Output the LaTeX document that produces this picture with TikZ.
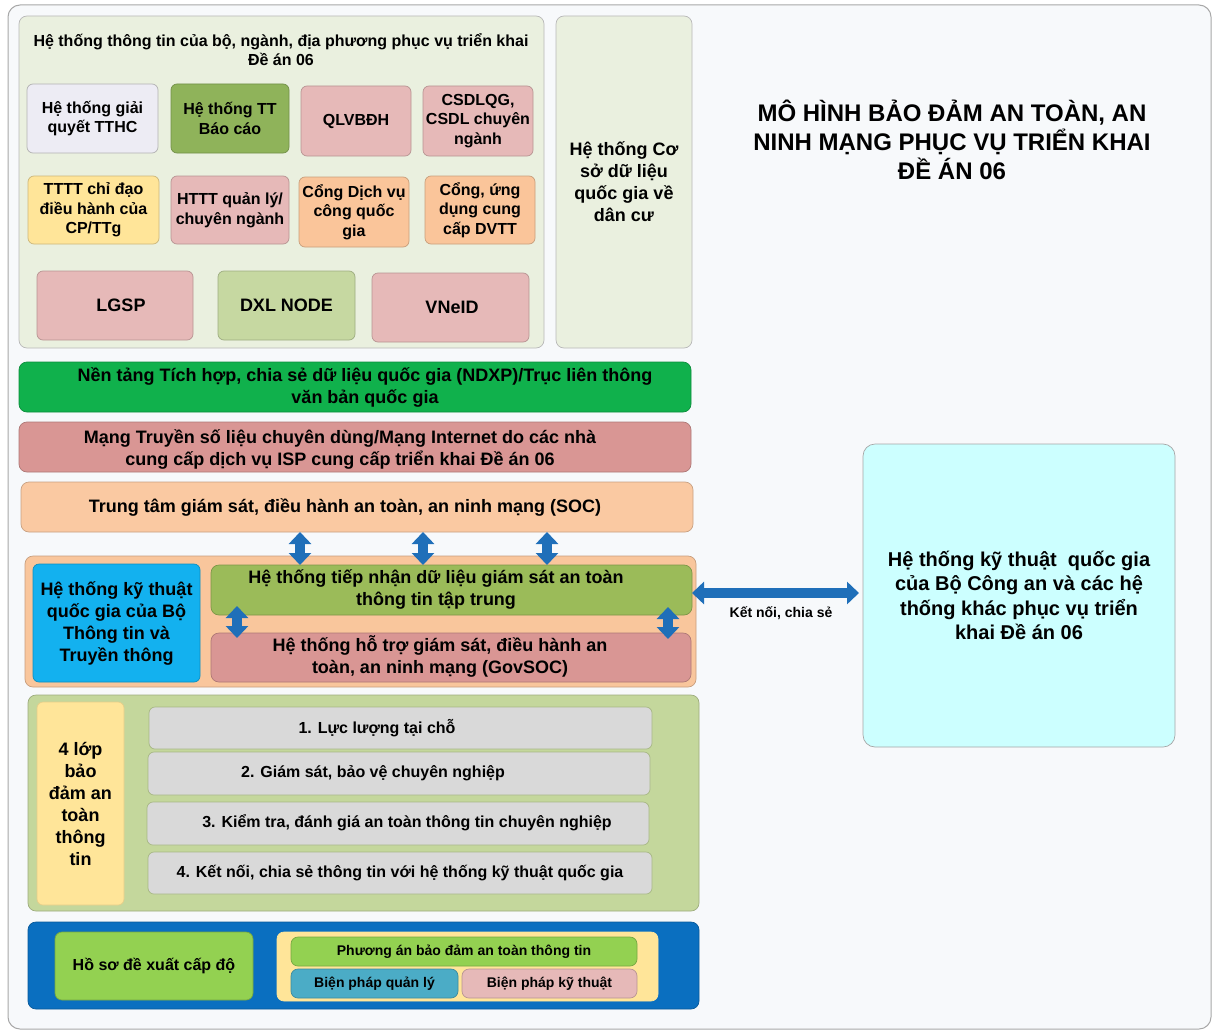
\documentclass[tikz,border=0pt]{standalone}
\usepackage{fontspec}
\setmainfont{Liberation Sans}
\usetikzlibrary{arrows.meta}
\definecolor{pagebg}{HTML}{F7F9FB}
\definecolor{framec}{HTML}{A8A8A8}
\definecolor{grpg}{HTML}{EAF0DF}
\definecolor{lav}{HTML}{EDECF4}
\definecolor{olive}{HTML}{8FB35A}
\definecolor{pinkl}{HTML}{E6B9B8}
\definecolor{yel}{HTML}{FFE599}
\definecolor{peach}{HTML}{FAC59A}
\definecolor{dxl}{HTML}{C6D8A1}
\definecolor{ndxpg}{HTML}{10B14C}
\definecolor{pinkd}{HTML}{D99694}
\definecolor{socc}{HTML}{FAC9A2}
\definecolor{midpeach}{HTML}{F9C69C}
\definecolor{cyanb}{HTML}{13B1EF}
\definecolor{recvg}{HTML}{9BBB59}
\definecolor{arrowb}{HTML}{1F6FB9}
\definecolor{cyanl}{HTML}{CCFFFF}
\definecolor{botg}{HTML}{C4D79C}
\definecolor{grayb}{HTML}{D9D9D9}
\definecolor{blueg}{HTML}{0A6FC0}
\definecolor{limeg}{HTML}{93D151}
\definecolor{tealb}{HTML}{4BACC6}
\newcommand\placebox[7]{\node[#2, minimum width={#5-#3}, minimum height={#6-#4}] (#1) at ({(#3+#5)/2},{(#4+#6)/2}) {#7};}
\tikzset{
  box/.style={rounded corners=6pt, inner sep=0pt, outer sep=0pt, line width=0.7pt, align=center,
    font=\bfseries\fontsize{16}{19.5}\selectfont},
  fb/.style={box, fill=#1, draw=#1!80!black},
  txt/.style={inner sep=0pt, outer sep=0pt, align=center},
  f14/.style={font=\bfseries\fontsize{14}{17}\selectfont},
  f16/.style={font=\bfseries\fontsize{16}{18.5}\selectfont},
  f18/.style={font=\bfseries\fontsize{18}{22}\selectfont},
  f20/.style={font=\bfseries\fontsize{20}{24.5}\selectfont},
  f24/.style={font=\bfseries\fontsize{24}{29}\selectfont},
  dbl/.style={draw=arrowb, line width=10pt,
    {Triangle[length=12pt,width=22pt]}-{Triangle[length=12pt,width=22pt]}},
}
\begin{document}
\begin{tikzpicture}[x=1pt,y=-1pt]
\useasboundingbox (0,0) rectangle (1214,1030);
\fill[white] (0,0) rectangle (1214,1030);
\draw[framec, fill=pagebg, line width=1pt, rounded corners=12pt] (8,5) rectangle (1211,1029);

% top group
\placebox{grp}{box, fill=grpg, draw=black!28, rounded corners=8pt}{19}{16}{544}{348}{}
\node[txt, f16] (grpT) at (281,49.5) {Hệ thống thông tin của bộ, ngành, địa phương phục vụ triển khai\\Đề án 06};
\placebox{b1}{box, fill=lav, draw=black!30}{27}{84}{158}{153}{Hệ thống giải\\quyết TTHC}
\placebox{b2}{fb=olive}{171}{84}{289}{153}{Hệ thống TT\\Báo cáo}
\placebox{b3}{fb=pinkl}{301}{86}{411}{156}{QLVBĐH}
\placebox{b4}{fb=pinkl}{423}{86}{533}{156}{CSDLQG,\\CSDL chuyên\\ngành}
\placebox{b5}{fb=yel}{28}{176}{159}{244}{TTTT chỉ đạo\\điều hành của\\CP/TTg}
\placebox{b6}{fb=pinkl}{171}{176}{289}{244}{HTTT quản lý/\\chuyên ngành}
\placebox{b7}{fb=peach}{299}{177}{409}{247}{Cổng Dịch vụ\\công quốc\\gia}
\placebox{b8}{fb=peach}{425}{176}{535}{244}{Cổng, ứng\\dụng cung\\cấp DVTT}
\placebox{lgsp}{fb=pinkl, f18}{37}{271}{193}{340}{\hspace*{12pt}LGSP}
\placebox{dxln}{fb=dxl, f18}{218}{271}{355}{340}{DXL NODE}
\placebox{vneid}{fb=pinkl, f18}{372}{273}{529}{342}{\hspace*{3pt}VNeID}
\placebox{csdl}{box, fill=grpg, draw=black!28, rounded corners=8pt, f18}{556}{16}{692}{348}{Hệ thống Cơ\\sở dữ liệu\\quốc gia về\\dân cư}

% title
\node[txt, f24] (title) at (952,140) {MÔ HÌNH BẢO ĐẢM AN TOÀN, AN\\NINH MẠNG PHỤC VỤ TRIỂN KHAI\\ĐỀ ÁN 06};

% bars
\placebox{ndxp}{fb=ndxpg, rounded corners=8pt}{19}{362}{691}{412}{}
\node[txt, f18] (ndxpT) at (365,387) {Nền tảng Tích hợp, chia sẻ dữ liệu quốc gia (NDXP)/Trục liên thông\\văn bản quốc gia};
\placebox{mang}{fb=pinkd, rounded corners=8pt}{19}{422}{691}{472}{}
\node[txt, f18] (mangT) at (340,449) {Mạng Truyền số liệu chuyên dùng/Mạng Internet do các nhà\\cung cấp dịch vụ ISP cung cấp triển khai Đề án 06};
\placebox{soc}{fb=socc, rounded corners=8pt}{21}{482}{693}{532}{}
\node[txt, f18] (socT) at (345,507) {Trung tâm giám sát, điều hành an toàn, an ninh mạng (SOC)};

% middle group
\placebox{mid}{fb=midpeach, rounded corners=8pt}{25}{556}{696}{687}{}
\placebox{mic}{fb=cyanb, f18}{33}{564}{200}{682}{Hệ thống kỹ thuật\\quốc gia của Bộ\\Thông tin và\\Truyền thông}
\placebox{recv}{fb=recvg, rounded corners=8pt}{211}{565}{692}{615}{}
\node[txt, f18] (recvT) at (436,589.5) {Hệ thống tiếp nhận dữ liệu giám sát an toàn\\thông tin tập trung};
\placebox{gov}{fb=pinkd, rounded corners=8pt}{211}{633}{691}{682}{}
\node[txt, f18] (govT) at (440,656.5) {Hệ thống hỗ trợ giám sát, điều hành an\\toàn, an ninh mạng (GovSOC)};

% right cyan box
\placebox{cyan}{box, fill=cyanl, draw=black!35, rounded corners=12pt, f20}{863}{444}{1175}{747}{Hệ thống kỹ thuật\ \ quốc gia\\của Bộ Công an và các hệ\\thống khác phục vụ triển\\khai Đề án 06}

% arrows
\coordinate (xa1) at (300,0);
\coordinate (xa2) at (423,0);
\coordinate (xa3) at (547,0);
\draw[dbl] (soc.south -| xa1) -- (recv.north -| xa1);
\draw[dbl] (soc.south -| xa2) -- (recv.north -| xa2);
\draw[dbl] (soc.south -| xa3) -- (recv.north -| xa3);
\coordinate (sa1) at (237,606);
\coordinate (sa2) at (237,638);
\draw[dbl] (sa1) -- (sa2);
\coordinate (sb1) at (668,607);
\coordinate (sb2) at (668,639);
\draw[dbl] (sb1) -- (sb2);
\coordinate (ha) at (0,593);
\draw[dbl, shorten >=4pt] (recv.east |- ha) -- (cyan.west |- ha);
\node[txt, f14] (ket) at (781,613) {Kết nối, chia sẻ};

% bottom green group
\placebox{bot}{fb=botg, rounded corners=8pt}{28}{695}{699}{911}{}
\placebox{four}{fb=yel, f18, draw=yel!90!black}{37}{702}{124}{905}{4 lớp\\bảo\\đảm an\\toàn\\thông\\tin}
\placebox{g1}{box, fill=grayb, draw=botg!85!black}{149}{707}{652}{749}{}
\placebox{g2}{box, fill=grayb, draw=botg!85!black}{148}{752}{650}{795}{}
\placebox{g3}{box, fill=grayb, draw=botg!85!black}{147}{802}{649}{845}{}
\placebox{g4}{box, fill=grayb, draw=botg!85!black}{148}{852}{652}{894}{}
\node[txt, f16] (g1T) at (377,728) {1. Lực lượng tại chỗ};
\node[txt, f16] (g2T) at (373,773) {2. Giám sát, bảo vệ chuyên nghiệp};
\node[txt, f16] (g3T) at (407,823) {3. Kiểm tra, đánh giá an toàn thông tin chuyên nghiệp};
\node[txt, f16] (g4T) at (400,873) {4. Kết nối, chia sẻ thông tin với hệ thống kỹ thuật quốc gia};

% bottom blue group
\placebox{blue}{fb=blueg, rounded corners=8pt}{28}{922}{699}{1009}{}
\placebox{hoso}{fb=limeg, rounded corners=7pt}{55}{932}{253}{1000}{Hồ sơ đề xuất cấp độ}
\placebox{yin}{fb=yel, draw=yel, rounded corners=7pt}{277}{932}{658}{1001}{}
\placebox{pa}{fb=limeg, f14, rounded corners=7pt}{291}{937}{637}{966}{Phương án bảo đảm an toàn thông tin}
\placebox{bq}{fb=tealb, f14, rounded corners=7pt}{291}{969}{458}{998}{Biện pháp quản lý}
\placebox{bk}{fb=pinkl, f14, rounded corners=7pt}{462}{969}{637}{998}{Biện pháp kỹ thuật}
\end{tikzpicture}
\end{document}
